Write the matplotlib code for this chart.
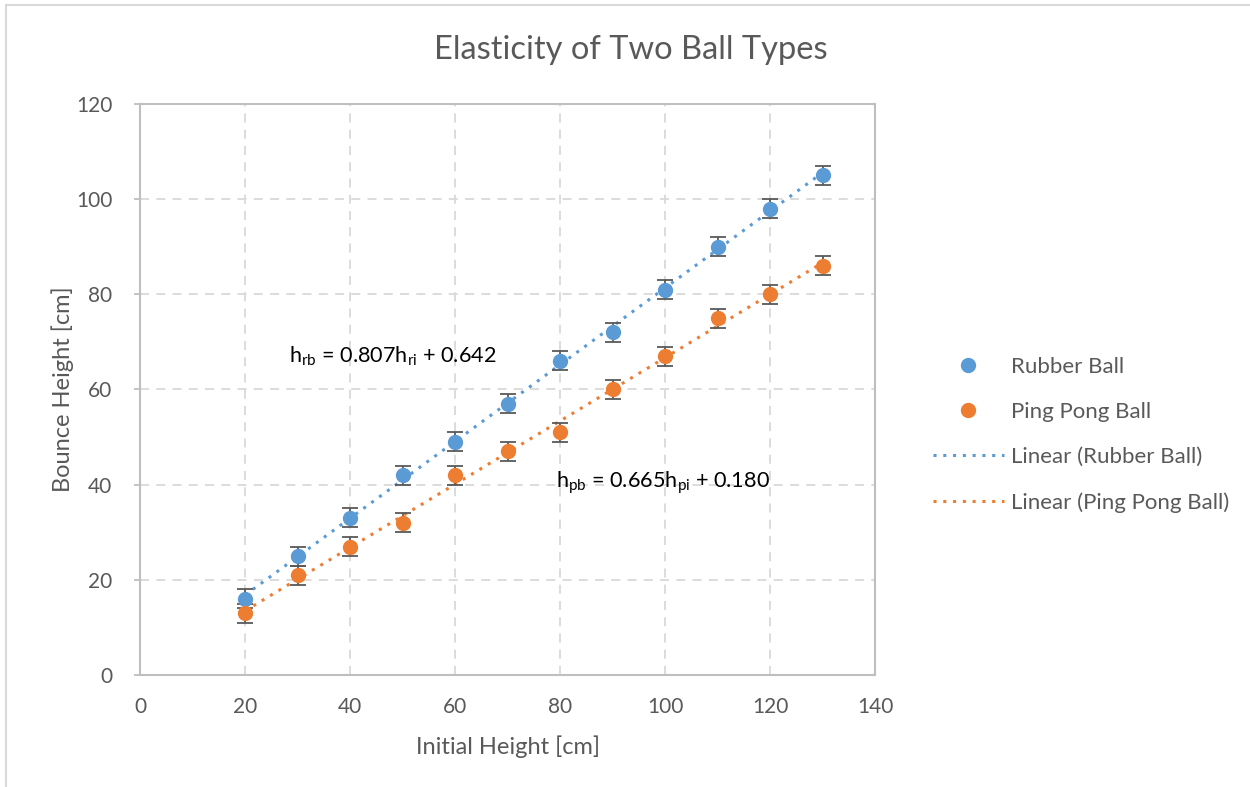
import matplotlib
matplotlib.use("Agg")
import matplotlib.pyplot as plt
from matplotlib.lines import Line2D
from matplotlib.patches import Rectangle
import numpy as np

plt.rcParams['font.family'] = ['Lato', 'DejaVu Sans']
plt.rcParams['mathtext.fontset'] = 'custom'
plt.rcParams['mathtext.rm'] = 'Lato'

initial_height = [20, 30, 40, 50, 60, 70, 80, 90, 100, 110, 120, 130]
rubber_bounce = [16, 25, 33, 42, 49, 57, 66, 72, 81, 90, 98, 105]
pingpong_bounce = [13, 21, 27, 32, 42, 47, 51, 60, 67, 75, 80, 86]
error = 2
rubber_fit = (0.807, 0.642)
pingpong_fit = (0.665, 0.180)

blue = '#5B9BD5'
orange = '#ED7D31'
grey_text = '#595959'

fig = plt.figure(figsize=(12.5, 7.87), dpi=100)
ax = fig.add_axes([0.112, 0.1423, 0.588, 0.7256])

# outer chart frame
fig.patches.append(Rectangle((0.005, -0.05), 1.2, 1.044, transform=fig.transFigure,
                             fill=False, edgecolor='#d9d9d9', linewidth=1.5))

x = np.array(initial_height)
for yvals, col, fit in [(rubber_bounce, blue, rubber_fit), (pingpong_bounce, orange, pingpong_fit)]:
    xx = np.array([x.min(), x.max()])
    ax.plot(xx, fit[0] * xx + fit[1], linestyle=(0, (1, 2.2)), color=col, linewidth=2.2, zorder=3)
    ax.errorbar(x, yvals, yerr=error, fmt='o', color=col, markersize=10,
                ecolor='#595959', elinewidth=1.3, capsize=6, capthick=1.3, zorder=4)

ax.set_xlim(0, 140)
ax.set_ylim(0, 120)
ax.set_xticks(range(0, 141, 20))
ax.set_yticks(range(0, 121, 20))
ax.grid(True, color='#d9d9d9', linestyle=(0, (5, 4)), linewidth=1.3)
ax.set_axisbelow(True)
for s in ax.spines.values():
    s.set_color('#bfbfbf')
    s.set_linewidth(1.5)
ax.tick_params(axis='y', colors='#bfbfbf', length=4, width=1.3, labelcolor=grey_text, labelsize=15, pad=16)
ax.tick_params(axis='x', length=0, labelcolor=grey_text, labelsize=15, pad=16)

ax.set_xlabel('Initial Height [cm]', fontsize=17, color=grey_text, labelpad=13)
ax.set_ylabel('Bounce Height [cm]', fontsize=17, color=grey_text, labelpad=1)
fig.text(0.505, 0.936, 'Elasticity of Two Ball Types', fontsize=23.5, color=grey_text,
         ha='center', va='center')

ax.text(28.3, 67, r'h$_{\mathregular{rb}}$ = 0.807h$_{\mathregular{ri}}$ + 0.642',
        fontsize=15.6, color='black', va='center')
ax.text(79.3, 40.5, r'h$_{\mathregular{pb}}$ = 0.665h$_{\mathregular{pi}}$ + 0.180',
        fontsize=15.6, color='black', va='center')

handles = [
    Line2D([], [], marker='o', linestyle='none', color=blue, markersize=10),
    Line2D([], [], marker='o', linestyle='none', color=orange, markersize=10),
    Line2D([], [], linestyle=(0, (1, 2.2)), color=blue, linewidth=2.2),
    Line2D([], [], linestyle=(0, (1, 2.2)), color=orange, linewidth=2.2),
]
labels = ['Rubber Ball', 'Ping Pong Ball', 'Linear (Rubber Ball)', 'Linear (Ping Pong Ball)']
fig.legend(handles, labels, loc='upper left', bbox_to_anchor=(0.730, 0.572),
           frameon=False, fontsize=16, labelcolor=grey_text, handlelength=3.2,
           handletextpad=0.35, labelspacing=1.13)

fig.savefig('out.png', dpi=100)
